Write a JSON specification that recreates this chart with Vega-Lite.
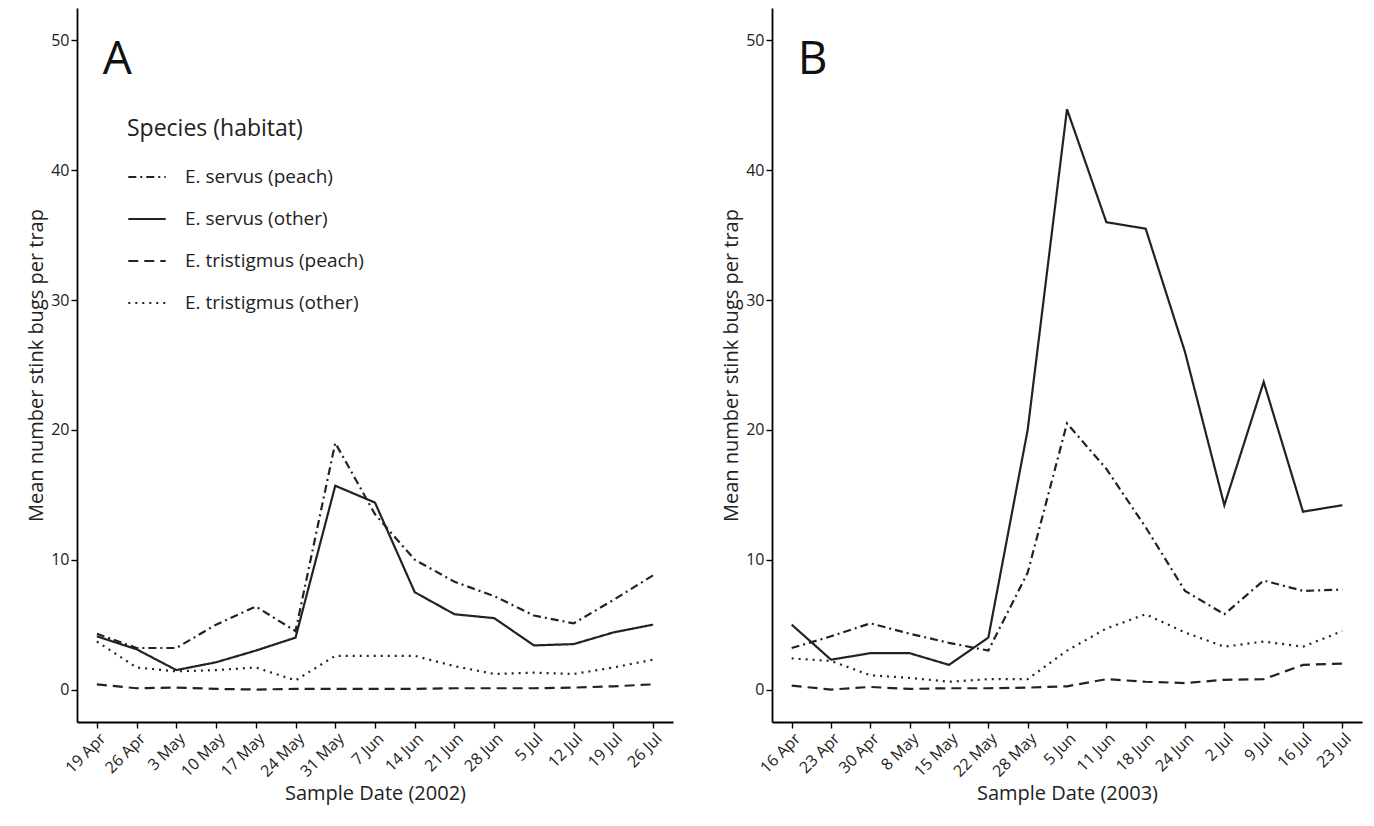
{
  "$schema": "https://vega.github.io/schema/vega-lite/v6.json",
  "background": "white",
  "padding": {"left": 26, "top": 8, "right": 5, "bottom": 5},
  "spacing": 48,
  "config": {
    "font": "Open Sans",
    "view": {"stroke": null},
    "axis": {"grid": false, "domainColor": "black", "domainWidth": 1.8, "tickColor": "black", "tickWidth": 1.4, "tickSize": 6, "labelColor": "#222", "labelFontSize": 16, "titleFontSize": 20, "titleFontWeight": "normal", "titleColor": "#222"}
  },
  "datasets": {
    "a": [
      {"d": "19 Apr", "s": "E. servus (peach)", "v": 4.3}, {"d": "26 Apr", "s": "E. servus (peach)", "v": 3.2}, {"d": "3 May", "s": "E. servus (peach)", "v": 3.2}, {"d": "10 May", "s": "E. servus (peach)", "v": 5.0}, {"d": "17 May", "s": "E. servus (peach)", "v": 6.4}, {"d": "24 May", "s": "E. servus (peach)", "v": 4.5}, {"d": "31 May", "s": "E. servus (peach)", "v": 19.0}, {"d": "7 Jun", "s": "E. servus (peach)", "v": 13.5}, {"d": "14 Jun", "s": "E. servus (peach)", "v": 10.0}, {"d": "21 Jun", "s": "E. servus (peach)", "v": 8.3}, {"d": "28 Jun", "s": "E. servus (peach)", "v": 7.2}, {"d": "5 Jul", "s": "E. servus (peach)", "v": 5.7}, {"d": "12 Jul", "s": "E. servus (peach)", "v": 5.1}, {"d": "19 Jul", "s": "E. servus (peach)", "v": 6.9}, {"d": "26 Jul", "s": "E. servus (peach)", "v": 8.8},
      {"d": "19 Apr", "s": "E. servus (other)", "v": 4.1}, {"d": "26 Apr", "s": "E. servus (other)", "v": 3.1}, {"d": "3 May", "s": "E. servus (other)", "v": 1.5}, {"d": "10 May", "s": "E. servus (other)", "v": 2.1}, {"d": "17 May", "s": "E. servus (other)", "v": 3.0}, {"d": "24 May", "s": "E. servus (other)", "v": 4.0}, {"d": "31 May", "s": "E. servus (other)", "v": 15.7}, {"d": "7 Jun", "s": "E. servus (other)", "v": 14.4}, {"d": "14 Jun", "s": "E. servus (other)", "v": 7.5}, {"d": "21 Jun", "s": "E. servus (other)", "v": 5.8}, {"d": "28 Jun", "s": "E. servus (other)", "v": 5.5}, {"d": "5 Jul", "s": "E. servus (other)", "v": 3.4}, {"d": "12 Jul", "s": "E. servus (other)", "v": 3.5}, {"d": "19 Jul", "s": "E. servus (other)", "v": 4.4}, {"d": "26 Jul", "s": "E. servus (other)", "v": 5.0},
      {"d": "19 Apr", "s": "E. tristigmus (peach)", "v": 0.4}, {"d": "26 Apr", "s": "E. tristigmus (peach)", "v": 0.1}, {"d": "3 May", "s": "E. tristigmus (peach)", "v": 0.15}, {"d": "10 May", "s": "E. tristigmus (peach)", "v": 0.05}, {"d": "17 May", "s": "E. tristigmus (peach)", "v": 0}, {"d": "24 May", "s": "E. tristigmus (peach)", "v": 0.05}, {"d": "31 May", "s": "E. tristigmus (peach)", "v": 0.05}, {"d": "7 Jun", "s": "E. tristigmus (peach)", "v": 0.05}, {"d": "14 Jun", "s": "E. tristigmus (peach)", "v": 0.05}, {"d": "21 Jun", "s": "E. tristigmus (peach)", "v": 0.1}, {"d": "28 Jun", "s": "E. tristigmus (peach)", "v": 0.1}, {"d": "5 Jul", "s": "E. tristigmus (peach)", "v": 0.1}, {"d": "12 Jul", "s": "E. tristigmus (peach)", "v": 0.15}, {"d": "19 Jul", "s": "E. tristigmus (peach)", "v": 0.25}, {"d": "26 Jul", "s": "E. tristigmus (peach)", "v": 0.4},
      {"d": "19 Apr", "s": "E. tristigmus (other)", "v": 3.7}, {"d": "26 Apr", "s": "E. tristigmus (other)", "v": 1.7}, {"d": "3 May", "s": "E. tristigmus (other)", "v": 1.4}, {"d": "10 May", "s": "E. tristigmus (other)", "v": 1.5}, {"d": "17 May", "s": "E. tristigmus (other)", "v": 1.7}, {"d": "24 May", "s": "E. tristigmus (other)", "v": 0.7}, {"d": "31 May", "s": "E. tristigmus (other)", "v": 2.6}, {"d": "7 Jun", "s": "E. tristigmus (other)", "v": 2.6}, {"d": "14 Jun", "s": "E. tristigmus (other)", "v": 2.6}, {"d": "21 Jun", "s": "E. tristigmus (other)", "v": 1.8}, {"d": "28 Jun", "s": "E. tristigmus (other)", "v": 1.2}, {"d": "5 Jul", "s": "E. tristigmus (other)", "v": 1.3}, {"d": "12 Jul", "s": "E. tristigmus (other)", "v": 1.2}, {"d": "19 Jul", "s": "E. tristigmus (other)", "v": 1.7}, {"d": "26 Jul", "s": "E. tristigmus (other)", "v": 2.3}
    ],
    "b": [
      {"d": "16 Apr", "s": "E. servus (peach)", "v": 3.2}, {"d": "23 Apr", "s": "E. servus (peach)", "v": 4.1}, {"d": "30 Apr", "s": "E. servus (peach)", "v": 5.1}, {"d": "8 May", "s": "E. servus (peach)", "v": 4.3}, {"d": "15 May", "s": "E. servus (peach)", "v": 3.6}, {"d": "22 May", "s": "E. servus (peach)", "v": 3.0}, {"d": "28 May", "s": "E. servus (peach)", "v": 9.0}, {"d": "5 Jun", "s": "E. servus (peach)", "v": 20.5}, {"d": "11 Jun", "s": "E. servus (peach)", "v": 17.0}, {"d": "18 Jun", "s": "E. servus (peach)", "v": 12.5}, {"d": "24 Jun", "s": "E. servus (peach)", "v": 7.6}, {"d": "2 Jul", "s": "E. servus (peach)", "v": 5.8}, {"d": "9 Jul", "s": "E. servus (peach)", "v": 8.4}, {"d": "16 Jul", "s": "E. servus (peach)", "v": 7.6}, {"d": "23 Jul", "s": "E. servus (peach)", "v": 7.7},
      {"d": "16 Apr", "s": "E. servus (other)", "v": 5.0}, {"d": "23 Apr", "s": "E. servus (other)", "v": 2.3}, {"d": "30 Apr", "s": "E. servus (other)", "v": 2.8}, {"d": "8 May", "s": "E. servus (other)", "v": 2.8}, {"d": "15 May", "s": "E. servus (other)", "v": 1.9}, {"d": "22 May", "s": "E. servus (other)", "v": 4.0}, {"d": "28 May", "s": "E. servus (other)", "v": 20.0}, {"d": "5 Jun", "s": "E. servus (other)", "v": 44.7}, {"d": "11 Jun", "s": "E. servus (other)", "v": 36.0}, {"d": "18 Jun", "s": "E. servus (other)", "v": 35.5}, {"d": "24 Jun", "s": "E. servus (other)", "v": 26.0}, {"d": "2 Jul", "s": "E. servus (other)", "v": 14.2}, {"d": "9 Jul", "s": "E. servus (other)", "v": 23.7}, {"d": "16 Jul", "s": "E. servus (other)", "v": 13.7}, {"d": "23 Jul", "s": "E. servus (other)", "v": 14.2},
      {"d": "16 Apr", "s": "E. tristigmus (peach)", "v": 0.3}, {"d": "23 Apr", "s": "E. tristigmus (peach)", "v": 0.0}, {"d": "30 Apr", "s": "E. tristigmus (peach)", "v": 0.2}, {"d": "8 May", "s": "E. tristigmus (peach)", "v": 0.05}, {"d": "15 May", "s": "E. tristigmus (peach)", "v": 0.1}, {"d": "22 May", "s": "E. tristigmus (peach)", "v": 0.1}, {"d": "28 May", "s": "E. tristigmus (peach)", "v": 0.15}, {"d": "5 Jun", "s": "E. tristigmus (peach)", "v": 0.25}, {"d": "11 Jun", "s": "E. tristigmus (peach)", "v": 0.8}, {"d": "18 Jun", "s": "E. tristigmus (peach)", "v": 0.6}, {"d": "24 Jun", "s": "E. tristigmus (peach)", "v": 0.5}, {"d": "2 Jul", "s": "E. tristigmus (peach)", "v": 0.75}, {"d": "9 Jul", "s": "E. tristigmus (peach)", "v": 0.8}, {"d": "16 Jul", "s": "E. tristigmus (peach)", "v": 1.9}, {"d": "23 Jul", "s": "E. tristigmus (peach)", "v": 2.0},
      {"d": "16 Apr", "s": "E. tristigmus (other)", "v": 2.4}, {"d": "23 Apr", "s": "E. tristigmus (other)", "v": 2.2}, {"d": "30 Apr", "s": "E. tristigmus (other)", "v": 1.1}, {"d": "8 May", "s": "E. tristigmus (other)", "v": 0.9}, {"d": "15 May", "s": "E. tristigmus (other)", "v": 0.6}, {"d": "22 May", "s": "E. tristigmus (other)", "v": 0.8}, {"d": "28 May", "s": "E. tristigmus (other)", "v": 0.8}, {"d": "5 Jun", "s": "E. tristigmus (other)", "v": 3.0}, {"d": "11 Jun", "s": "E. tristigmus (other)", "v": 4.7}, {"d": "18 Jun", "s": "E. tristigmus (other)", "v": 5.8}, {"d": "24 Jun", "s": "E. tristigmus (other)", "v": 4.4}, {"d": "2 Jul", "s": "E. tristigmus (other)", "v": 3.3}, {"d": "9 Jul", "s": "E. tristigmus (other)", "v": 3.7}, {"d": "16 Jul", "s": "E. tristigmus (other)", "v": 3.3}, {"d": "23 Jul", "s": "E. tristigmus (other)", "v": 4.5}
    ],
    "one": [{}]
  },
  "hconcat": [
    {
      "width": 596,
      "height": 714,
      "layer": [
        {
          "data": {"name": "a"},
          "mark": {"type": "line", "color": "#222", "strokeWidth": 2.2},
          "encoding": {
            "x": {"field": "d", "type": "ordinal", "sort": null, "scale": {"paddingOuter": 0.05}, "title": "Sample Date (2002)", "axis": {"labelAngle": -45}},
            "y": {"field": "v", "type": "quantitative", "scale": {"domain": [-2.5, 52.5], "nice": false}, "axis": {"values": [0, 10, 20, 30, 40, 50]}, "title": "Mean number stink bugs per trap"},
            "strokeDash": {
              "field": "s", "type": "nominal",
              "scale": {"domain": ["E. servus (peach)", "E. servus (other)", "E. tristigmus (peach)", "E. tristigmus (other)"], "range": [[8, 4, 2, 4], [1, 0], [10, 6], [2, 5]]},
              "legend": {"orient": "none", "legendX": 50, "legendY": 110, "title": "Species (habitat)", "titleFontSize": 23, "titleFontWeight": "normal", "titleColor": "#222", "labelFontSize": 19, "labelColor": "#222", "labelLimit": 0, "symbolType": "stroke", "symbolSize": 1400, "symbolStrokeColor": "#222", "symbolStrokeWidth": 2.2, "rowPadding": 12, "titlePadding": 16, "labelOffset": 18}
            }
          }
        },
        {
          "data": {"name": "one"},
          "mark": {"type": "text", "fontSize": 46, "align": "left", "dx": 6, "color": "#111"},
          "encoding": {"x": {"datum": "19 Apr", "type": "ordinal"}, "y": {"datum": 48.5, "type": "quantitative"}, "text": {"value": "A"}}
        }
      ]
    },
    {
      "width": 590,
      "height": 714,
      "layer": [
        {
          "data": {"name": "b"},
          "mark": {"type": "line", "color": "#222", "strokeWidth": 2.2},
          "encoding": {
            "x": {"field": "d", "type": "ordinal", "sort": null, "scale": {"paddingOuter": 0.05}, "title": "Sample Date (2003)", "axis": {"labelAngle": -45}},
            "y": {"field": "v", "type": "quantitative", "scale": {"domain": [-2.5, 52.5], "nice": false}, "axis": {"values": [0, 10, 20, 30, 40, 50]}, "title": "Mean number stink bugs per trap"},
            "strokeDash": {
              "field": "s", "type": "nominal",
              "scale": {"domain": ["E. servus (peach)", "E. servus (other)", "E. tristigmus (peach)", "E. tristigmus (other)"], "range": [[8, 4, 2, 4], [1, 0], [10, 6], [2, 5]]},
              "legend": null
            }
          }
        },
        {
          "data": {"name": "one"},
          "mark": {"type": "text", "fontSize": 46, "align": "left", "dx": 6, "color": "#111"},
          "encoding": {"x": {"datum": "16 Apr", "type": "ordinal"}, "y": {"datum": 48.5, "type": "quantitative"}, "text": {"value": "B"}}
        }
      ]
    }
  ],
  "resolve": {"scale": {"strokeDash": "independent"}}
}
